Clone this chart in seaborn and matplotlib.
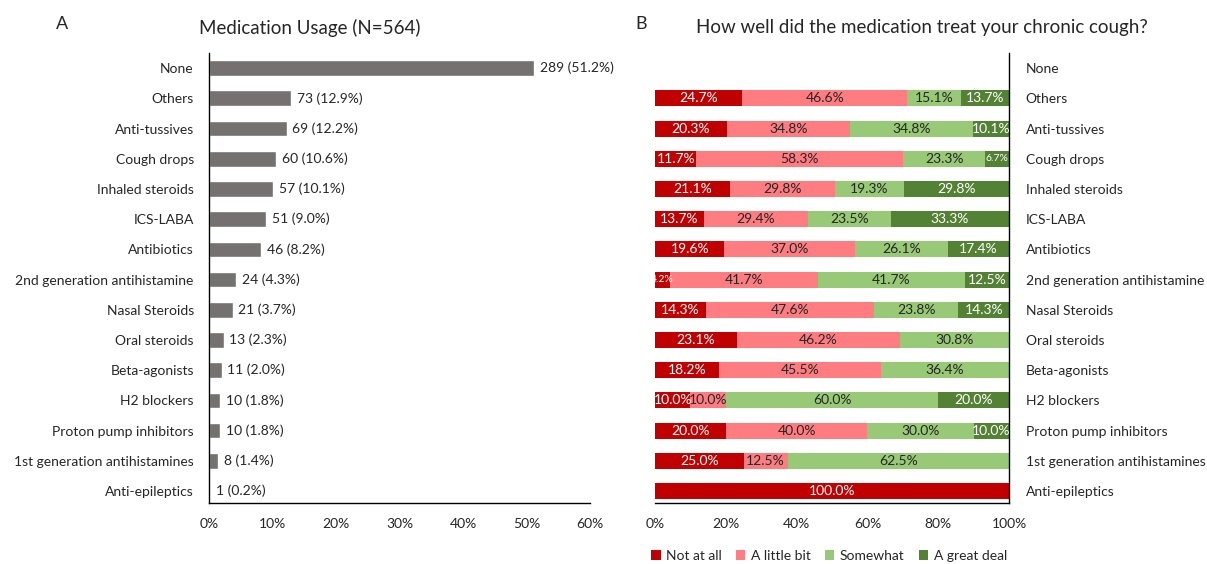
import matplotlib
matplotlib.use('Agg')
import matplotlib.pyplot as plt
from matplotlib.patches import Patch
from matplotlib.ticker import PercentFormatter
import pandas as pd
import seaborn as sns

# --- data ---
categories = ['None', 'Others', 'Anti-tussives', 'Cough drops', 'Inhaled steroids',
              'ICS-LABA', 'Antibiotics', '2nd generation antihistamine',
              'Nasal Steroids', 'Oral steroids', 'Beta-agonists', 'H2 blockers',
              'Proton pump inhibitors', '1st generation antihistamines', 'Anti-epileptics']
counts = [289, 73, 69, 60, 57, 51, 46, 24, 21, 13, 11, 10, 10, 8, 1]
count_pcts = [51.2, 12.9, 12.2, 10.6, 10.1, 9.0, 8.2, 4.3, 3.7, 2.3, 2.0, 1.8, 1.8, 1.4, 0.2]

# panel B has no bar for "None"
rated = categories[1:]
not_at_all = [24.7, 20.3, 11.7, 21.1, 13.7, 19.6, 4.2, 14.3, 23.1, 18.2, 10.0, 20.0, 25.0, 100.0]
a_little_bit = [46.6, 34.8, 58.3, 29.8, 29.4, 37.0, 41.7, 47.6, 46.2, 45.5, 10.0, 40.0, 12.5, 0.0]
somewhat = [15.1, 34.8, 23.3, 19.3, 23.5, 26.1, 41.7, 23.8, 30.8, 36.4, 60.0, 30.0, 62.5, 0.0]
a_great_deal = [13.7, 10.1, 6.7, 29.8, 33.3, 17.4, 12.5, 14.3, 0.0, 0.0, 20.0, 10.0, 0.0, 0.0]

levels = ['Not at all', 'A little bit', 'Somewhat', 'A great deal']
level_colors = ['#C00000', '#FF7C80', '#98C976', '#548235']
label_colors = ['white', '#262626', '#262626', 'white']

sns.set_style('white')
plt.rcParams['font.family'] = ['Lato', 'DejaVu Sans']
plt.rcParams['font.size'] = 10

fig = plt.figure(figsize=(12.07, 5.64), dpi=100)
axA = fig.add_axes([0.1732, 0.108, 0.3157, 0.798])
axB = fig.add_axes([0.5427, 0.108, 0.2933, 0.798])

# ---- panel A ----
sns.barplot(x=count_pcts, y=categories, order=categories, color='#767171',
            saturation=1, width=0.52, orient='h', ax=axA)
for i, (c, p) in enumerate(zip(counts, count_pcts)):
    axA.text(p + 0.9, i, f'{c} ({p:.1f}%)', va='center', ha='left',
             fontsize=10, color='#262626')
axA.set_xlim(0, 60)
axA.set_xticks(range(0, 61, 10))
axA.xaxis.set_major_formatter(PercentFormatter(decimals=0))
axA.set_ylim(14.4, -0.5)
axA.set_xlabel('')
axA.set_ylabel('')
for s in ['top', 'right']:
    axA.spines[s].set_visible(False)
for s in ['left', 'bottom']:
    axA.spines[s].set_color('black')
    axA.spines[s].set_linewidth(1)
axA.tick_params(axis='y', length=0, pad=11, labelsize=10, labelcolor='#262626')
axA.tick_params(axis='x', length=0, pad=11, labelsize=10, labelcolor='#262626')

# ---- panel B (stacked) ----
df = pd.DataFrame({'med': rated, 'Not at all': not_at_all, 'A little bit': a_little_bit,
                   'Somewhat': somewhat, 'A great deal': a_great_deal})
cum = df[levels].cumsum(axis=1)
for lvl, col in reversed(list(zip(levels, level_colors))):
    sns.barplot(x=cum[lvl], y=df['med'], order=categories, color=col,
                saturation=1, width=0.53, orient='h', ax=axB, linewidth=0)

for lvl, tcol in zip(levels, label_colors):
    for med, v, end in zip(df['med'], df[lvl], cum[lvl]):
        if v <= 0:
            continue
        yi = categories.index(med)
        fs = 7.5 if v < 8 else 10
        axB.text(end - v / 2, yi, f'{v:.1f}%', ha='center', va='center',
                 color=tcol, fontsize=fs)

axB.set_xlim(0, 100)
axB.set_xticks(range(0, 101, 20))
axB.xaxis.set_major_formatter(PercentFormatter(decimals=0))
axB.set_ylim(14.4, -0.5)
axB.set_xlabel('')
axB.set_ylabel('')
axB.yaxis.tick_right()
axB.set_yticks(range(len(categories)))
axB.set_yticklabels(categories, ha='left')
for s in ['top', 'left']:
    axB.spines[s].set_visible(False)
for s in ['right', 'bottom']:
    axB.spines[s].set_visible(True)
    axB.spines[s].set_color('black')
    axB.spines[s].set_linewidth(1)
axB.tick_params(axis='y', length=0, pad=12, labelsize=10, labelcolor='#262626')
axB.tick_params(axis='x', length=0, pad=11, labelsize=10, labelcolor='#262626')

# titles and panel letters
fig.text(62 / 1207, 1 - 24 / 564, 'A', fontsize=13, ha='center', va='center')
fig.text(641 / 1207, 1 - 24 / 564, 'B', fontsize=13, ha='center', va='center')
fig.text(310 / 1207, 1 - 28 / 564, 'Medication Usage (N=564)', fontsize=13.5,
         ha='center', va='center', color='#262626')
fig.text(922 / 1207, 1 - 28 / 564, 'How well did the medication treat your chronic cough?',
         fontsize=13.5, ha='center', va='center', color='#262626')

handles = [Patch(facecolor=c, edgecolor='none', label=l) for l, c in zip(levels, level_colors)]
fig.legend(handles=handles, loc='center', bbox_to_anchor=(829 / 1207, 1 - 556 / 564),
           ncol=4, frameon=False, fontsize=10, handlelength=0.7, handleheight=0.7,
           handletextpad=0.4, columnspacing=1.0)

fig.savefig('out.png', dpi=100)
